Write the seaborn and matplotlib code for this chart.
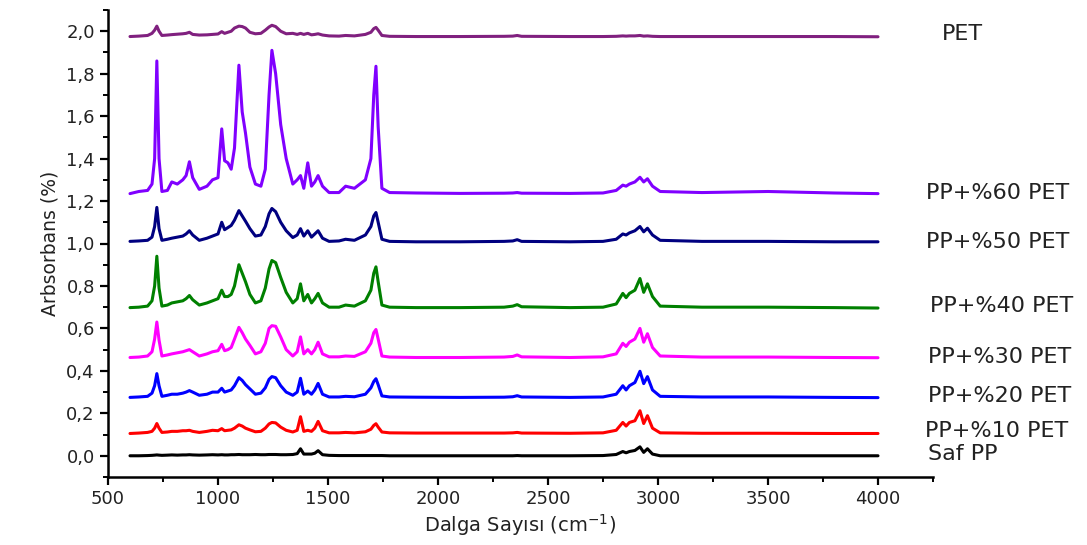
import numpy as np
import pandas as pd
import matplotlib
matplotlib.use("Agg")
import matplotlib.pyplot as plt
import seaborn as sns
from matplotlib.ticker import MultipleLocator, FuncFormatter

# ---------------- data ----------------
wavenumber = [600, 640, 680, 700, 712, 722, 732, 745, 770, 790, 815, 840, 855, 870, 885,
              915, 950, 975, 1000, 1017, 1030, 1045, 1060, 1075, 1095, 1110, 1125, 1145,
              1170, 1195, 1215, 1232, 1245, 1262, 1285, 1310, 1340, 1360, 1375, 1390, 1408,
              1425, 1440, 1455, 1475, 1505, 1550, 1580, 1620, 1670, 1695, 1708, 1718, 1728,
              1745, 1780, 1900, 2100, 2300, 2340, 2360, 2380, 2600, 2750, 2810, 2840, 2855,
              2870, 2895, 2918, 2935, 2952, 2975, 3010, 3200, 3500, 3800, 4000]

series_names = ["PET", "PP+%60 PET", "PP+%50 PET", "PP+%40 PET",
                "PP+%30 PET", "PP+%20 PET", "PP+%10 PET", "Saf PP"]

pet = [1.975, 1.977, 1.980, 1.990, 2.005, 2.024, 2.000, 1.980, 1.982, 1.984, 1.986, 1.988, 1.990, 1.995, 1.985,
       1.982, 1.983, 1.985, 1.987, 1.998, 1.990, 1.995, 2.000, 2.015, 2.024, 2.022, 2.015, 1.995,
       1.988, 1.990, 2.005, 2.020, 2.028, 2.022, 2.000, 1.988, 1.990, 1.985, 1.990, 1.985, 1.990,
       1.983, 1.985, 1.988, 1.982, 1.978, 1.977, 1.980, 1.978, 1.985, 1.995, 2.012, 2.018, 2.005,
       1.980, 1.976, 1.975, 1.975, 1.976, 1.977, 1.980, 1.976, 1.975, 1.975, 1.976, 1.978, 1.977,
       1.978, 1.978, 1.980, 1.977, 1.978, 1.976, 1.975, 1.975, 1.975, 1.975, 1.974]

pp60 = [1.235, 1.245, 1.250, 1.280, 1.400, 1.860, 1.400, 1.245, 1.250, 1.290, 1.280, 1.300, 1.320, 1.385, 1.310,
        1.255, 1.270, 1.300, 1.310, 1.540, 1.390, 1.380, 1.350, 1.450, 1.840, 1.620, 1.520, 1.360,
        1.280, 1.270, 1.350, 1.700, 1.910, 1.800, 1.560, 1.400, 1.280, 1.300, 1.320, 1.260, 1.380,
        1.270, 1.290, 1.320, 1.270, 1.240, 1.240, 1.270, 1.260, 1.300, 1.400, 1.700, 1.835, 1.550,
        1.260, 1.240, 1.238, 1.236, 1.237, 1.238, 1.240, 1.237, 1.236, 1.238, 1.250, 1.275, 1.270,
        1.280, 1.290, 1.312, 1.290, 1.305, 1.270, 1.245, 1.240, 1.245, 1.238, 1.235]

pp50 = [1.010, 1.012, 1.015, 1.030, 1.080, 1.170, 1.070, 1.015, 1.020, 1.025, 1.030, 1.035, 1.045, 1.060, 1.040,
        1.015, 1.025, 1.035, 1.045, 1.100, 1.065, 1.075, 1.085, 1.110, 1.155, 1.130, 1.105, 1.070,
        1.035, 1.040, 1.080, 1.140, 1.165, 1.150, 1.100, 1.060, 1.028, 1.040, 1.070, 1.035, 1.060,
        1.030, 1.045, 1.060, 1.025, 1.010, 1.012, 1.020, 1.015, 1.040, 1.080, 1.130, 1.146, 1.100,
        1.020, 1.010, 1.008, 1.008, 1.010, 1.012, 1.018, 1.010, 1.008, 1.010, 1.020, 1.045, 1.040,
        1.050, 1.060, 1.080, 1.055, 1.072, 1.040, 1.015, 1.010, 1.010, 1.008, 1.008]

pp40 = [0.698, 0.700, 0.705, 0.730, 0.800, 0.940, 0.790, 0.705, 0.710, 0.720, 0.725, 0.730, 0.740, 0.755, 0.735,
        0.710, 0.720, 0.730, 0.740, 0.780, 0.750, 0.750, 0.760, 0.800, 0.900, 0.860, 0.820, 0.760,
        0.720, 0.730, 0.790, 0.880, 0.920, 0.910, 0.840, 0.770, 0.720, 0.740, 0.810, 0.730, 0.760,
        0.720, 0.740, 0.765, 0.720, 0.700, 0.700, 0.710, 0.705, 0.730, 0.780, 0.860, 0.890, 0.820,
        0.710, 0.700, 0.698, 0.698, 0.700, 0.705, 0.712, 0.702, 0.698, 0.700, 0.715, 0.765, 0.745,
        0.765, 0.780, 0.835, 0.770, 0.810, 0.750, 0.705, 0.700, 0.700, 0.698, 0.696]

pp30 = [0.463, 0.465, 0.470, 0.490, 0.550, 0.630, 0.545, 0.470, 0.475, 0.480, 0.485, 0.490, 0.495, 0.500, 0.490,
        0.470, 0.480, 0.490, 0.495, 0.525, 0.495, 0.500, 0.510, 0.550, 0.605, 0.580, 0.550, 0.520,
        0.480, 0.490, 0.530, 0.600, 0.613, 0.610, 0.560, 0.500, 0.470, 0.490, 0.560, 0.480, 0.500,
        0.480, 0.500, 0.535, 0.480, 0.466, 0.466, 0.470, 0.468, 0.490, 0.530, 0.580, 0.595, 0.550,
        0.470, 0.465, 0.463, 0.463, 0.465, 0.468, 0.475, 0.466, 0.463, 0.466, 0.480, 0.530, 0.515,
        0.535, 0.550, 0.600, 0.535, 0.575, 0.510, 0.470, 0.465, 0.465, 0.463, 0.462]

pp20 = [0.275, 0.277, 0.280, 0.295, 0.330, 0.387, 0.330, 0.280, 0.285, 0.290, 0.290, 0.295, 0.300, 0.307, 0.300,
        0.285, 0.290, 0.300, 0.300, 0.318, 0.300, 0.305, 0.310, 0.330, 0.368, 0.355, 0.335, 0.315,
        0.290, 0.295, 0.320, 0.360, 0.373, 0.368, 0.330, 0.300, 0.285, 0.300, 0.365, 0.290, 0.305,
        0.290, 0.310, 0.341, 0.290, 0.277, 0.277, 0.280, 0.278, 0.290, 0.320, 0.350, 0.363, 0.335,
        0.282, 0.277, 0.276, 0.275, 0.276, 0.278, 0.283, 0.277, 0.275, 0.277, 0.290, 0.330, 0.310,
        0.330, 0.345, 0.398, 0.340, 0.373, 0.310, 0.280, 0.277, 0.277, 0.275, 0.274]

pp10 = [0.105, 0.107, 0.110, 0.115, 0.130, 0.152, 0.130, 0.110, 0.112, 0.115, 0.115, 0.118, 0.118, 0.120, 0.115,
        0.110, 0.115, 0.120, 0.118, 0.128, 0.118, 0.120, 0.122, 0.130, 0.146, 0.140, 0.130, 0.122,
        0.113, 0.115, 0.130, 0.150, 0.157, 0.155, 0.135, 0.120, 0.112, 0.120, 0.184, 0.115, 0.120,
        0.115, 0.130, 0.162, 0.118, 0.108, 0.108, 0.110, 0.108, 0.113, 0.125, 0.143, 0.151, 0.135,
        0.112, 0.108, 0.107, 0.107, 0.107, 0.108, 0.110, 0.107, 0.106, 0.108, 0.120, 0.157, 0.140,
        0.157, 0.165, 0.212, 0.152, 0.189, 0.130, 0.108, 0.106, 0.106, 0.105, 0.105]

saf_pp = [0.000, 0.000, 0.001, 0.002, 0.003, 0.004, 0.003, 0.002, 0.003, 0.004, 0.003, 0.004, 0.004, 0.005, 0.004,
          0.003, 0.004, 0.005, 0.004, 0.005, 0.004, 0.004, 0.005, 0.005, 0.006, 0.005, 0.005, 0.005,
          0.006, 0.005, 0.005, 0.006, 0.006, 0.006, 0.005, 0.005, 0.006, 0.010, 0.033, 0.008, 0.008,
          0.008, 0.012, 0.024, 0.005, 0.002, 0.001, 0.001, 0.001, 0.001, 0.001, 0.001, 0.001, 0.001,
          0.001, 0.000, 0.000, 0.000, 0.000, 0.000, 0.001, 0.000, 0.000, 0.001, 0.006, 0.020, 0.014,
          0.020, 0.025, 0.042, 0.016, 0.033, 0.008, 0.000, 0.000, 0.000, 0.000, 0.000]

series_values = [pet, pp60, pp50, pp40, pp30, pp20, pp10, saf_pp]

x_ticks = [500, 1000, 1500, 2000, 2500, 3000, 3500, 4000]
y_ticks = [0.0, 0.2, 0.4, 0.6, 0.8, 1.0, 1.2, 1.4, 1.6, 1.8, 2.0]

# ---------------- styling ----------------
colors = ["#80207f", "#8000ff", "#000080", "#008000",
          "#ff00ff", "#0000ff", "#ff0000", "#000000"]
label_x = [4291, 4218, 4218, 4236, 4227, 4227, 4214, 4227]
label_dy = [0.012, 0.005, 0.0, 0.008, 0.004, 0.008, 0.012, 0.01]

frames = []
for name, vals in zip(series_names, series_values):
    frames.append(pd.DataFrame({"wn": wavenumber, "abs": vals, "sample": name}))
df = pd.concat(frames, ignore_index=True)

sns.set_theme(style="ticks")
plt.rcParams["font.family"] = ["DejaVu Sans"]

fig = plt.figure(figsize=(10.87, 5.45), dpi=100)
ax = fig.add_axes([108 / 1087, 68 / 545, (933 - 108) / 1087, (477 - 10) / 545])

sns.lineplot(data=df, x="wn", y="abs", hue="sample", hue_order=series_names,
             palette=dict(zip(series_names, colors)), legend=False, sort=False,
             estimator=None, linewidth=2.2, ax=ax)

ax.set_xlim(500, 4250)
ax.set_ylim(-0.1, 2.1)
ax.set_xticks(x_ticks)
ax.set_yticks(y_ticks)
ax.xaxis.set_minor_locator(MultipleLocator(250))
ax.yaxis.set_minor_locator(MultipleLocator(0.1))
ax.yaxis.set_major_formatter(FuncFormatter(lambda v, p: f"{v:.1f}".replace(".", ",")))

for s in ["top", "right"]:
    ax.spines[s].set_visible(False)
for s in ["left", "bottom"]:
    ax.spines[s].set_linewidth(1.8)
    ax.spines[s].set_color("black")

ax.tick_params(axis="both", which="major", direction="out", length=6, width=1.6,
               labelsize=13, colors="black", labelcolor="#222222")
ax.tick_params(axis="both", which="minor", direction="out", length=3.5, width=1.4, colors="black")

ax.set_xlabel("Dalga Sayısı (cm$^{-1}$)", fontsize=14, color="#222222", labelpad=3)
ax.set_ylabel("Arbsorbans (%)", fontsize=13.5, color="#222222", labelpad=5)

for name, vals, lx, dy in zip(series_names, series_values, label_x, label_dy):
    ax.text(lx, vals[-1] + dy, name, fontsize=16, color="#222222",
            ha="left", va="center", clip_on=False)

fig.savefig("out.png", dpi=100, facecolor="white")
